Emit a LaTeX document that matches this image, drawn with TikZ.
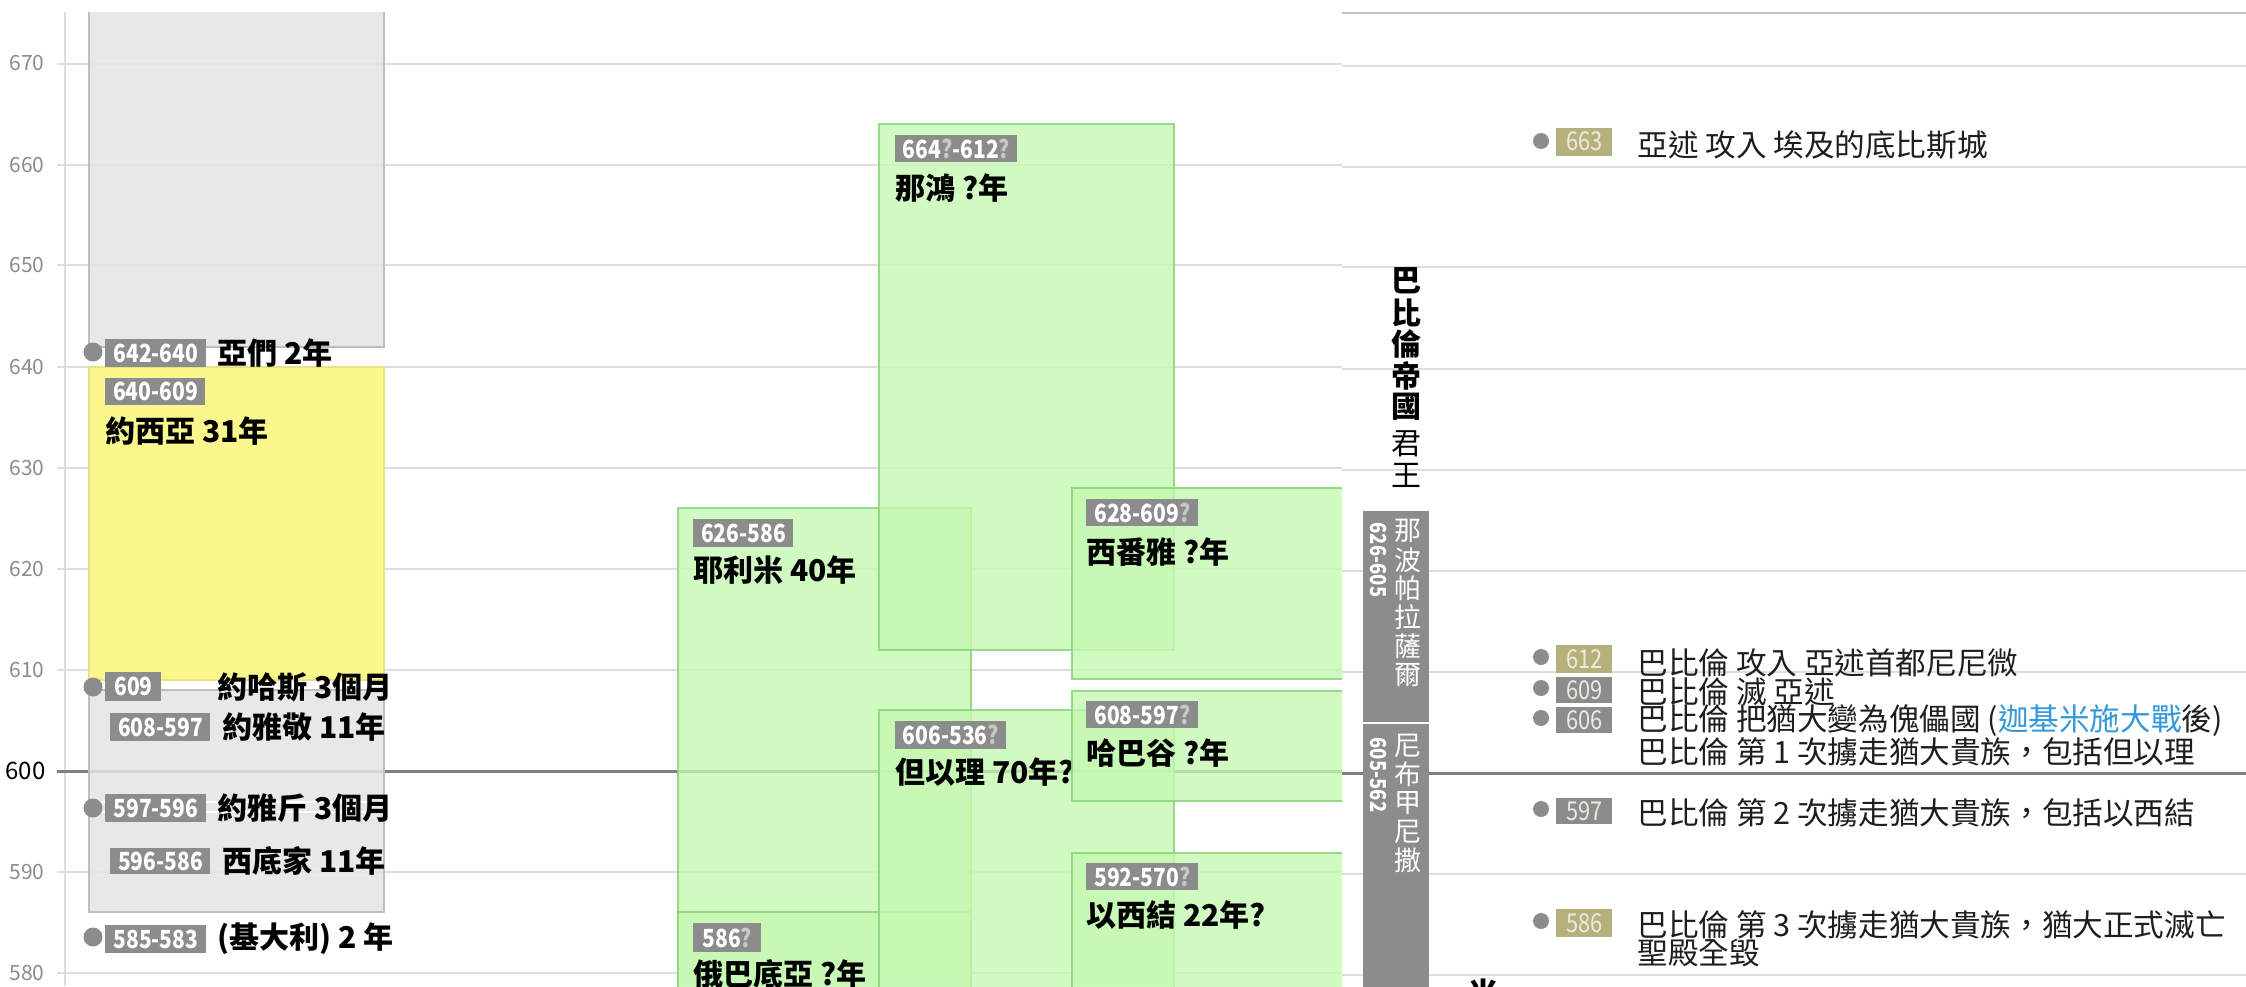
\documentclass[tikz,border=0pt]{standalone}
\usepackage{fontspec}
\setmainfont{Noto Sans CJK TC}
\newfontfamily\numf[FakeStretch=0.84]{Noto Sans CJK TC}
\definecolor{lbl}{RGB}{140,140,140}
\definecolor{olive}{RGB}{180,178,122}
\definecolor{gridc}{RGB}{222,222,222}
\definecolor{axisc}{RGB}{140,140,140}
\definecolor{boxgray}{RGB}{228,228,228}
\definecolor{boxgrayb}{RGB}{190,190,190}
\definecolor{yel}{RGB}{250,247,140}
\definecolor{yelb}{RGB}{232,226,130}
\definecolor{grn}{RGB}{197,249,178}
\definecolor{grnb}{RGB}{140,215,125}
\definecolor{qm}{RGB}{200,200,200}
\definecolor{txt}{RGB}{30,30,30}
\definecolor{evt}{RGB}{235,235,225}
\definecolor{lnk}{RGB}{52,152,219}
\newcommand{\qq}{\textcolor{qm}{?}}
\begin{document}
\begin{tikzpicture}[x=0.5pt,y=-0.5pt,
  lab/.style={fill=lbl,text=white,font=\numf\fontsize{12.5}{12.5}\selectfont\bfseries,inner sep=0pt,minimum height=14pt,minimum width=#1,anchor=west},
  who/.style={font=\fontsize{15}{15}\selectfont\bfseries,text=black,inner sep=0pt,anchor=west},
  ev/.style={font=\fontsize{15.3}{15.3}\selectfont,text=txt,inner sep=0pt,anchor=west},
  evdot/.style={circle,fill=lbl,inner sep=0pt,minimum size=#1},
  yr/.style={font=\fontsize{10.5}{10.5}\selectfont,text=axisc,inner sep=0pt,anchor=east},
  evd/.style={fill=#1,text=evt,font=\numf\fontsize{13}{13}\selectfont,inner sep=0pt,minimum width=28pt,minimum height=14pt,anchor=west},
  gbox/.style={fill=boxgray,fill opacity=0.85,draw=boxgrayb,line width=0.75pt},
  pbox/.style={fill=grn,fill opacity=0.78,draw=grnb,draw opacity=0.9,line width=0.75pt},
  vch/.style={font=\fontsize{13.5}{13.5}\selectfont,text=white,inner sep=0pt},
  tch/.style={font=\fontsize{15}{15}\selectfont,text=black,inner sep=0pt},
]
\useasboundingbox (0,0) rectangle (2246,986);
\fill[white] (0,0) rectangle (2246,986);
% ================= left and middle panels =================
\begin{scope}
\clip (0,12) rectangle (1342,986);
% grid
\foreach \yy in {64,165,265,367,468,569,670,872,973}
  \draw[gridc,line width=1pt] (57,\yy) -- (1342,\yy);
\draw[gridc,line width=1pt] (65,12) -- (65,986);
\draw[black!50,line width=1.5pt] (57,771) -- (1342,771);
% kings of Judah
\fill[gbox] (89,0) rectangle (384,347);
\fill[yel,draw=yelb,line width=0.75pt] (89,367) rectangle (384,680);
\fill[gbox] (89,690) rectangle (384,912);
\draw[white,line width=0.6pt] (89,802) -- (384,802) (89,812) -- (384,812);
\node[evdot=9.5pt] (d642) at (93,352) {};
\node[evdot=9.5pt] (d609) at (93,687) {};
\node[evdot=9.5pt] (d597) at (93,808) {};
\node[evdot=9.5pt] (d585) at (93,937) {};
\node[lab=50.5pt] (l642) at (105,353) {642-640};
\node[lab=50pt,minimum height=13.5pt] (l640) at (105,391.5) {640-609};
\node[lab=28pt,minimum height=14.5pt] (l609) at (105,686.5) {609};
\node[lab=50pt] (l608) at (110,727) {608-597};
\node[lab=50.5pt] (l597) at (105,808) {597-596};
\node[lab=50pt,minimum height=13pt] (l596) at (110,861) {596-586};
\node[lab=50.5pt] (l585) at (105,939) {585-583};
\node[who] (k642) at (217,353) {亞們 2年};
\node[who] (k640) at (105,431) {約西亞 31年};
\node[who] (k609) at (217,687) {約哈斯 3個月};
\node[who] (k608) at (222,727) {約雅敬 11年};
\node[who] (k597) at (217,808) {約雅斤 3個月};
\node[who] (k596) at (222,861) {西底家 11年};
\node[who] (k585) at (217,939) {(基大利) 2 年};
% prophets
\fill[pbox] (678,508) rectangle (971,1000);
\node[lab=50pt] (pjer) at (693,533) {626-586};
\node[who] (njer) at (693,570) {耶利米 40年};
\fill[pbox] (678,912) rectangle (971,1000);
\node[lab=34pt,minimum height=14.5pt] (poba) at (693,937.5) {586\qq};
\node[who] (noba) at (693,974) {俄巴底亞 ?年};
\fill[pbox] (879,124) rectangle (1174,650);
\node[lab=61pt,minimum height=13.5pt] (pnah) at (895,148.5) {664\qq-612\qq};
\node[who] (nnah) at (895,188) {那鴻 ?年};
\fill[pbox] (879,710) rectangle (1174,1000);
\node[lab=55.5pt] (pdan) at (895,735) {606-536\qq};
\begin{scope}
\clip (879,700) rectangle (1072,800);
\node[who] (ndan) at (895,772) {但以理 70年?};
\end{scope}
\fill[pbox] (1072,488) rectangle (1360,679);
\node[lab=56pt,minimum height=13.5pt] (pzep) at (1086,512.5) {628-609\qq};
\node[who] (nzep) at (1086,552) {西番雅 ?年};
\fill[pbox] (1072,691) rectangle (1360,801);
\node[lab=56pt,minimum height=13.5pt] (phab) at (1086,714.5) {608-597\qq};
\node[who] (nhab) at (1086,753) {哈巴谷 ?年};
\fill[pbox] (1072,853) rectangle (1360,1000);
\node[lab=56pt,minimum height=13.5pt] (peze) at (1086,876.5) {592-570\qq};
\node[who] (neze) at (1086,915) {以西結 22年?};
\end{scope}
% axis labels
\foreach \yy/\t in {63/670,165/660,265/650,367/640,468/630,569/620,670/610,872/590,973/580}
  \node[yr] (ax\t) at (45,\yy) {\t};
\node[yr,text=black,font=\fontsize{12}{12}\selectfont] (ax600) at (46,771) {600};
% ================= right panel =================
\begin{scope}
\clip (1342,0) rectangle (2246,986);
\draw[black!25,line width=1pt] (1342,13) -- (2246,13);
\foreach \yy in {66,167,267,369,470,571,672,874,975}
  \draw[gridc,line width=1pt] (1342,\yy) -- (2246,\yy);
\draw[black!50,line width=1.5pt] (1342,773) -- (2246,773);
% title
\foreach \c [count=\i from 0] in {巴,比,倫,帝,國}
  \node[tch,font=\fontsize{15}{15}\selectfont\bfseries] (ti\i) at (1406,281+\i*31.5) {\c};
\node[tch] (tj0) at (1406,444) {君};
\node[tch] (tj1) at (1406,475) {王};
% kings bar
\fill[lbl] (1363,511) rectangle (1429,722);
\fill[lbl] (1363,724) rectangle (1429,1000);
\foreach \c [count=\i from 0] in {那,波,帕,拉,薩,爾}
  \node[vch] (na\i) at (1408,531+\i*28.8) {\c};
\foreach \c [count=\i from 0] in {尼,布,甲,尼,撒}
  \node[vch] (ne\i) at (1408,746+\i*28.6) {\c};
\node[rotate=-90,text=white,font=\numf\fontsize{11}{11}\selectfont\bfseries,inner sep=0pt] (nad) at (1378,560) {626-605};
\node[rotate=-90,text=white,font=\numf\fontsize{11}{11}\selectfont\bfseries,inner sep=0pt] (ned) at (1378,775) {605-562};
% events
\node[evdot=8pt] (e663d) at (1541,141) {};
\node[evd=olive] (e663b) at (1556,141.5) {663};
\node[ev] (e663t) at (1637,145) {亞述 攻入 埃及的底比斯城};
\node[evdot=8pt] (e612d) at (1541,657) {};
\node[evd=olive] (e612b) at (1556,659) {612};
\node[ev] (e612t) at (1637,663) {巴比倫 攻入 亞述首都尼尼微};
\node[evdot=8pt] (e609d) at (1541,688) {};
\node[evd=lbl,minimum height=13pt] (e609b) at (1556,690) {609};
\node[ev] (e609t) at (1637,692) {巴比倫 滅 亞述};
\node[evdot=8pt] (e606d) at (1541,718) {};
\node[evd=lbl,minimum height=13pt] (e606b) at (1556,720) {606};
\node[ev] (e606t) at (1637,721) {巴比倫 把猶大變為傀儡國 (\textcolor{lnk}{迦基米施大戰}後)};
\node[ev] (e606u) at (1637,752) {巴比倫 第 1 次擄走猶大貴族，包括但以理};
\node[evdot=8pt] (e597d) at (1541,809) {};
\node[evd=lbl,minimum height=13pt] (e597b) at (1556,811) {597};
\node[ev] (e597t) at (1637,813) {巴比倫 第 2 次擄走猶大貴族，包括以西結};
\node[evdot=8pt] (e586d) at (1541,921) {};
\node[evd=olive] (e586b) at (1556,923) {586};
\node[ev] (e586t) at (1637,925) {巴比倫 第 3 次擄走猶大貴族，猶大正式滅亡};
\node[ev] (e586u) at (1637,953) {聖殿全毀};
\node[tch,font=\fontsize{15}{15}\selectfont\bfseries,anchor=north] (cut) at (1483,978) {米};
\end{scope}
\end{tikzpicture}
\end{document}
